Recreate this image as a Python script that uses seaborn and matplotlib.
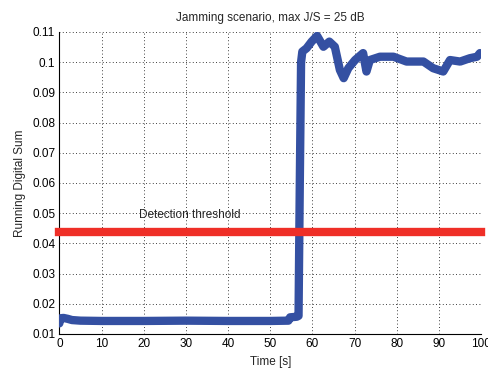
import seaborn as sns
import matplotlib.pyplot as plt
import pandas as pd

# running digital sum
time_s = [0, 0.3, 1.0, 2.0, 3.0, 5, 10, 20, 30, 40, 50, 54.3, 54.7, 56.3, 56.7,
          57.0, 57.3, 57.6, 58.6, 59.8, 61.1, 62.6, 64.0, 65.3, 66.5, 67.4,
          68.5, 70.1, 72.0, 72.8, 73.6, 76.0, 79.2, 82.3, 86.3, 88.6, 91.0,
          92.6, 95.0, 97.3, 99.0, 99.7]
rds = [0.0135, 0.0152, 0.0153, 0.0150, 0.0146, 0.0144, 0.0143, 0.0143, 0.0144,
       0.0143, 0.0143, 0.0144, 0.0155, 0.0157, 0.0160,
       0.060, 0.1000, 0.1035, 0.1046, 0.1068, 0.1087, 0.1051, 0.1068, 0.1051,
       0.0974, 0.0947, 0.0980, 0.1007, 0.1030, 0.0969, 0.1007, 0.1018, 0.1018,
       0.1002, 0.1002, 0.0980, 0.0969, 0.1007, 0.1002, 0.1013, 0.1018, 0.1030]
threshold = 0.0437

xticks = list(range(0, 101, 10))
yticks = [0.01, 0.02, 0.03, 0.04, 0.05, 0.06, 0.07, 0.08, 0.09, 0.1, 0.11]
ylabels = ['0.01', '0.02', '0.03', '0.04', '0.05', '0.06', '0.07', '0.08', '0.09', '0.1', '0.11']

sns.set_style("white")
plt.rcParams['font.family'] = ['Liberation Sans', 'DejaVu Sans']
plt.rcParams['font.size'] = 8.5

fig = plt.figure(figsize=(4.89, 3.69), dpi=100)
ax = fig.add_axes([0.1213, 0.095, 0.8628, 0.8184])

df = pd.DataFrame({'t': time_s, 'rds': rds})
sns.lineplot(data=df, x='t', y='rds', sort=False, estimator=None,
             color='#3450a2', linewidth=6, ax=ax, zorder=3)
ax.plot([0, 100], [threshold, threshold], color='#ef2f27', linewidth=6,
        solid_capstyle='projecting', clip_on=False, zorder=4)
ax.text(18.9, 0.0494, 'Detection threshold', fontsize=8.5, va='center')

ax.set_xlim(0, 100)
ax.set_ylim(0.01, 0.11)
ax.set_xticks(xticks)
ax.set_yticks(yticks)
ax.set_yticklabels(ylabels)
ax.grid(True, color='black', linestyle=(0, (1, 3)), linewidth=0.6)
ax.tick_params(direction='in', length=3, pad=3, colors='black', labelsize=8.5)
for s in ['top', 'right']:
    ax.spines[s].set_visible(False)
for s in ['left', 'bottom']:
    ax.spines[s].set_color('black')
    ax.spines[s].set_linewidth(0.8)

ax.set_title('Jamming scenario, max J/S = 25 dB', fontsize=8.5, pad=8)
ax.set_xlabel('Time [s]', fontsize=8.5, labelpad=4)
ax.set_ylabel('Running Digital Sum', fontsize=8.5, labelpad=4)

fig.savefig('out.png', dpi=100)
